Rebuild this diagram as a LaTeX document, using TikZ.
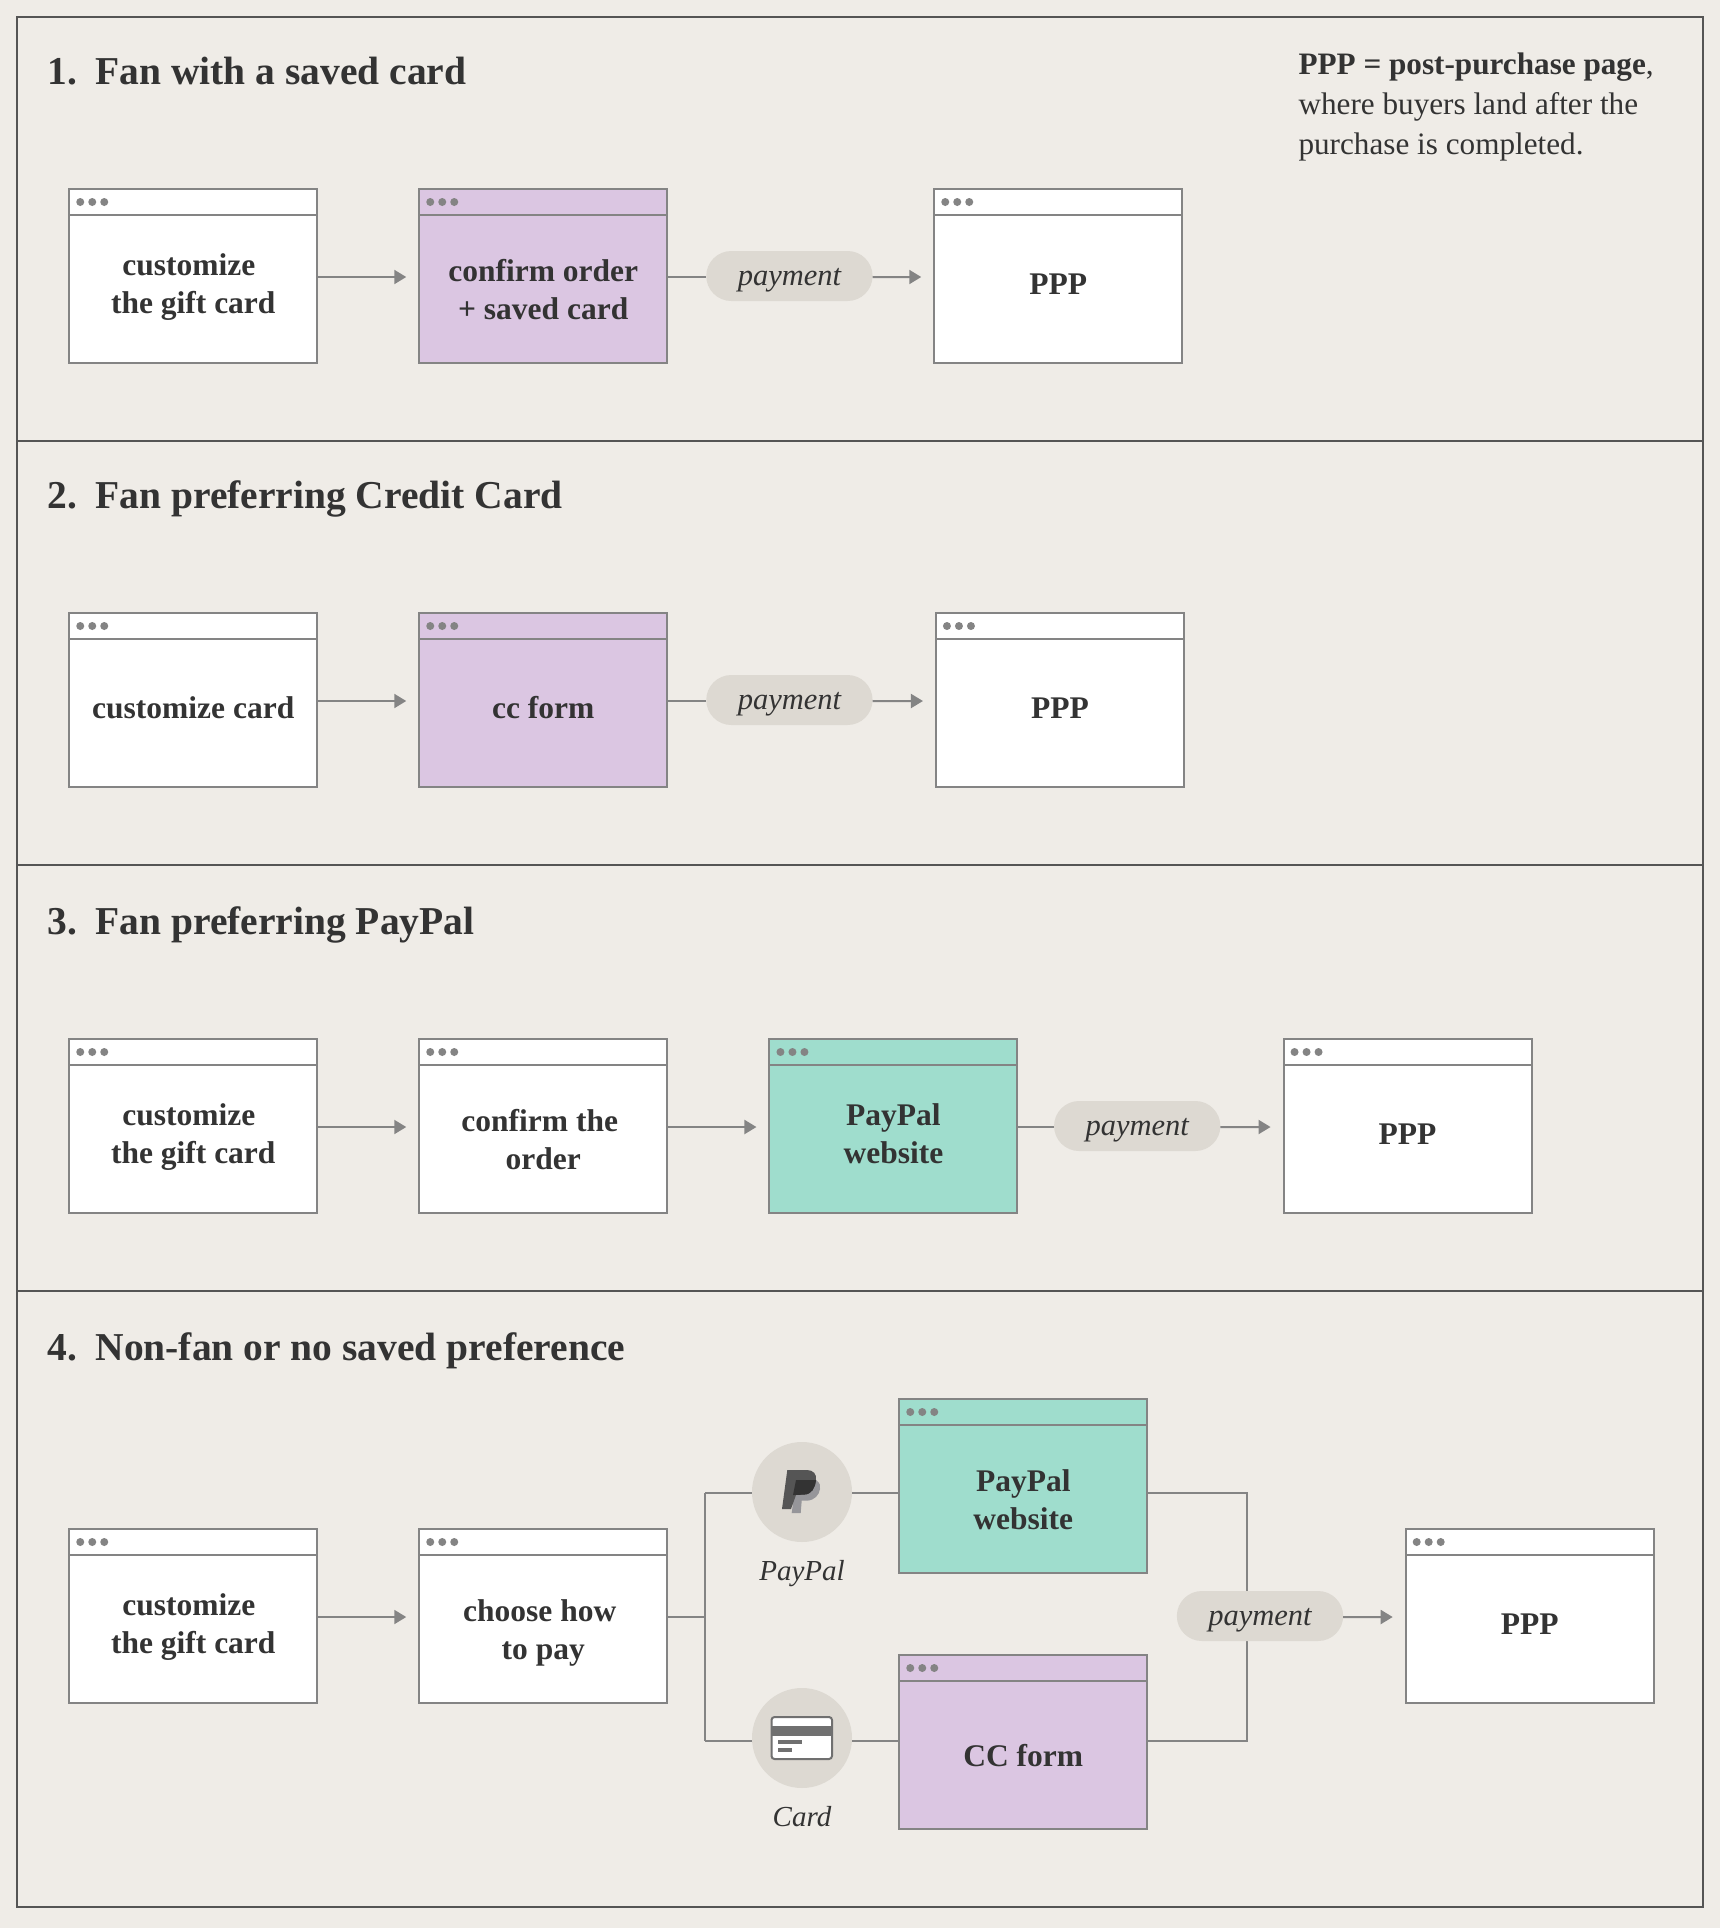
\documentclass[tikz,border=0pt]{standalone}
\usepackage{fontspec}
\setmainfont{Liberation Serif}
\usetikzlibrary{positioning, arrows.meta, shapes.misc}

\definecolor{pagebg}{HTML}{EFECE7}
\definecolor{framegray}{HTML}{555555}
\definecolor{linegray}{HTML}{848484}
\definecolor{inkgray}{HTML}{333333}
\definecolor{pillgray}{HTML}{DDD9D2}
\definecolor{lilac}{HTML}{DBC6E2}
\definecolor{teal}{HTML}{9FDDCD}
\definecolor{iconlight}{HTML}{96969A}
\definecolor{iconmid}{HTML}{555555}
\definecolor{iconcard}{HTML}{707070}

\tikzset{
	panel/.style={draw=framegray, line width=2pt},
	win/.style={rectangle, draw=linegray, line width=2pt, fill=white, outer sep=0pt,
		minimum width=248pt, minimum height=174pt,
		path picture={
			\draw[linegray, line width=2pt] ([yshift=-26pt]path picture bounding box.north west) -- ([yshift=-26pt]path picture bounding box.north east);
			\fill[linegray] ([xshift=11pt,yshift=-13pt]path picture bounding box.north west) circle (4pt);
			\fill[linegray] ([xshift=23pt,yshift=-13pt]path picture bounding box.north west) circle (4pt);
			\fill[linegray] ([xshift=35pt,yshift=-13pt]path picture bounding box.north west) circle (4pt);
		}},
	wintxt/.style={align=center, text=inkgray, yshift=-8pt, font=\fontsize{31.5}{38}\selectfont\bfseries},
	pill/.style={rounded rectangle, fill=pillgray, minimum width=173pt, minimum height=50pt, outer sep=0pt, text=inkgray,
		text height=20pt, text depth=1.4pt, font=\fontsize{30.5}{38}\selectfont\itshape},
	icon/.style={circle, fill=pillgray, minimum size=100pt, outer sep=0pt},
	iconlabel/.style={text=inkgray, font=\fontsize{29}{38}\selectfont\itshape},
	heading/.style={anchor=base west, text=inkgray, font=\fontsize{39.5}{44}\selectfont\bfseries},
	note/.style={anchor=base west, align=left, text=inkgray, font=\fontsize{31.2}{40}\selectfont},
	conn/.style={draw=linegray, line width=2pt},
	flow/.style={conn, -{Triangle[length=12pt,width=14pt]}, shorten >=13pt},
	rowline/.style={transform canvas={yshift=-1pt}},
}

\begin{document}
\begin{tikzpicture}[x=1pt, y=-1pt, node distance=102pt]
	\useasboundingbox[fill=pagebg] (0,0) rectangle (1720,1928);
	\draw[panel] (17,17) rectangle (1703,441);
	\draw[panel] (17,441) rectangle (1703,865);
	\draw[panel] (17,865) rectangle (1703,1291);
	\draw[panel] (17,1291) rectangle (1703,1907);

	% 1
	\node[heading] (h1) at (44,84) {\makebox[48pt][l]{1.}Fan with a saved card};
	\node[note] (n1) at (1295,154) {\textbf{PPP = post-purchase page},\\where buyers land after the\\purchase is completed.};
	\node[win] (a1) at (193.25,276) {};
	\node[win, fill=lilac, right=of a1] (a2) {};
	\node[pill, right=39pt of a2] (pay1) {payment};
	\node[win, right=267pt of a2] (a3) {};
	\node[wintxt, yshift=-3pt] (a1t) at (a1) {customize\hspace*{9pt}\\the gift card};
	\node[wintxt, yshift=-6pt] (a2t) at (a2) {confirm order\\+ saved card};
	\node[wintxt] (a3t) at (a3) {PPP};
	\draw[flow, rowline] (a1) -- (a2);
	\draw[conn, rowline] (a2) -- (pay1);
	\draw[flow, rowline] (pay1) -- (a3);

	% 2
	\node[heading] (h2) at (44,508) {\makebox[48pt][l]{2.}Fan preferring Credit Card};
	\node[win] (b1) at (193.25,700) {};
	\node[win, fill=lilac, right=of b1] (b2) {};
	\node[pill, right=39pt of b2] (pay2) {payment};
	\node[win, right=268.7pt of b2] (b3) {};
	\node[wintxt] (b1t) at (b1) {customize card};
	\node[wintxt] (b2t) at (b2) {cc form};
	\node[wintxt] (b3t) at (b3) {PPP};
	\draw[flow, rowline] (b1) -- (b2);
	\draw[conn, rowline] (b2) -- (pay2);
	\draw[flow, rowline] (pay2) -- (b3);

	% 3
	\node[heading] (h3) at (44,934) {\makebox[48pt][l]{3.}Fan preferring PayPal};
	\node[win] (c1) at (193.25,1126) {};
	\node[win, right=of c1] (c2) {};
	\node[win, fill=teal, right=102.2pt of c2] (c3) {};
	\node[pill, right=36.6pt of c3] (pay3) {payment};
	\node[win, right=266.1pt of c3] (c4) {};
	\node[wintxt, yshift=-3pt] (c1t) at (c1) {customize\hspace*{9pt}\\the gift card};
	\node[wintxt, yshift=-6pt] (c2t) at (c2) {confirm the\hspace*{7pt}\\order};
	\node[wintxt] (c3t) at (c3) {PayPal\\website};
	\node[wintxt] (c4t) at (c4) {PPP};
	\draw[flow, rowline] (c1) -- (c2);
	\draw[flow, rowline] (c2) -- (c3);
	\draw[conn, rowline] (c3) -- (pay3);
	\draw[flow, rowline] (pay3) -- (c4);

	% 4
	\node[heading] (h4) at (44,1360) {\makebox[48pt][l]{4.}Non-fan or no saved preference};
	\node[win] (d1) at (193.25,1616) {};
	\node[win, right=of d1] (d2) {};
	\node[win, fill=teal] (d3) at (1023.25,1486) {};
	\node[win, fill=lilac] (d4) at (1023.25,1742) {};
	\node[win] (d5) at (1529.7,1616) {};
	\node[icon] (icpp) at (802,1492) {};
	\node[icon] (iccd) at (802,1738) {};
	\coordinate (j1) at (705,1617);
	\coordinate (j2) at (705,1493);
	\coordinate (j3) at (705,1741);
	\coordinate (j4) at (1247,1493);
	\coordinate (j5) at (1247,1741);
	\draw[flow, rowline] (d1) -- (d2);
	\draw[conn] (d2.east |- j1) -- (j1);
	\draw[conn] (j2) -- (j3);
	\draw[conn] (j2) -- (j2 -| icpp.west);
	\draw[conn] (j3) -- (j3 -| iccd.west);
	\draw[conn] (j2 -| icpp.east) -- (j2 -| d3.west);
	\draw[conn] (j3 -| iccd.east) -- (j3 -| d4.west);
	\draw[conn] (j2 -| d3.east) -- (j4) -- (j5) -- (j3 -| d4.east);
	\node[pill] (pay4) at (1260,1616) {payment};
	\draw[flow, rowline] (pay4) -- (d5);
	\node[wintxt, yshift=-3pt] (d1t) at (d1) {customize\hspace*{9pt}\\the gift card};
	\node[wintxt, yshift=-9pt] (d2t) at (d2) {choose how\hspace*{7pt}\\to pay};
	\node[wintxt, yshift=-5.4pt] (d3t) at (d3) {PayPal\\website};
	\node[wintxt, yshift=-5.4pt] (d4t) at (d4) {CC form};
	\node[wintxt] (d5t) at (d5) {PPP};
	\node[iconlabel, anchor=base] (icppt) at (802,1580) {PayPal};
	\node[iconlabel, anchor=base] (iccdt) at (802,1826) {Card};

	% paypal mark
	\begin{scope}[shift={(icpp.center)}]
		\fill[iconlight] (-6,-12) -- (14,-12) .. controls (18,-9) and (19,-6) .. (18,-3) .. controls (17,3) and (13,8) .. (5,8.7) -- (-0.3,8.7) -- (-1.3,21) -- (-10.3,21) -- cycle;
		\fill[iconmid] (-14.7,-22) -- (5,-22) .. controls (11,-22) and (15,-18) .. (14,-12) .. controls (13,-4) and (10,2.3) .. (2,2.6) -- (-6,3) -- (-11,17) -- (-20,17) -- cycle;
		\fill[inkgray] (-6,-12) -- (14,-12) .. controls (13,-4) and (10,2.3) .. (2,2.6) -- (-9,3) -- cycle;
	\end{scope}
	% card
	\begin{scope}[shift={(iccd.center)}]
		\draw[iconcard, line width=2pt, fill=white, rounded corners=3pt] (-30.5,-21) rectangle (30,21);
		\fill[iconcard] (-30.5,-11.8) rectangle (30,-2.2);
		\fill[iconcard] (-24,2.2) rectangle (0,6.2);
		\fill[iconcard] (-24,10) rectangle (-10,14);
	\end{scope}
\end{tikzpicture}
\end{document}
